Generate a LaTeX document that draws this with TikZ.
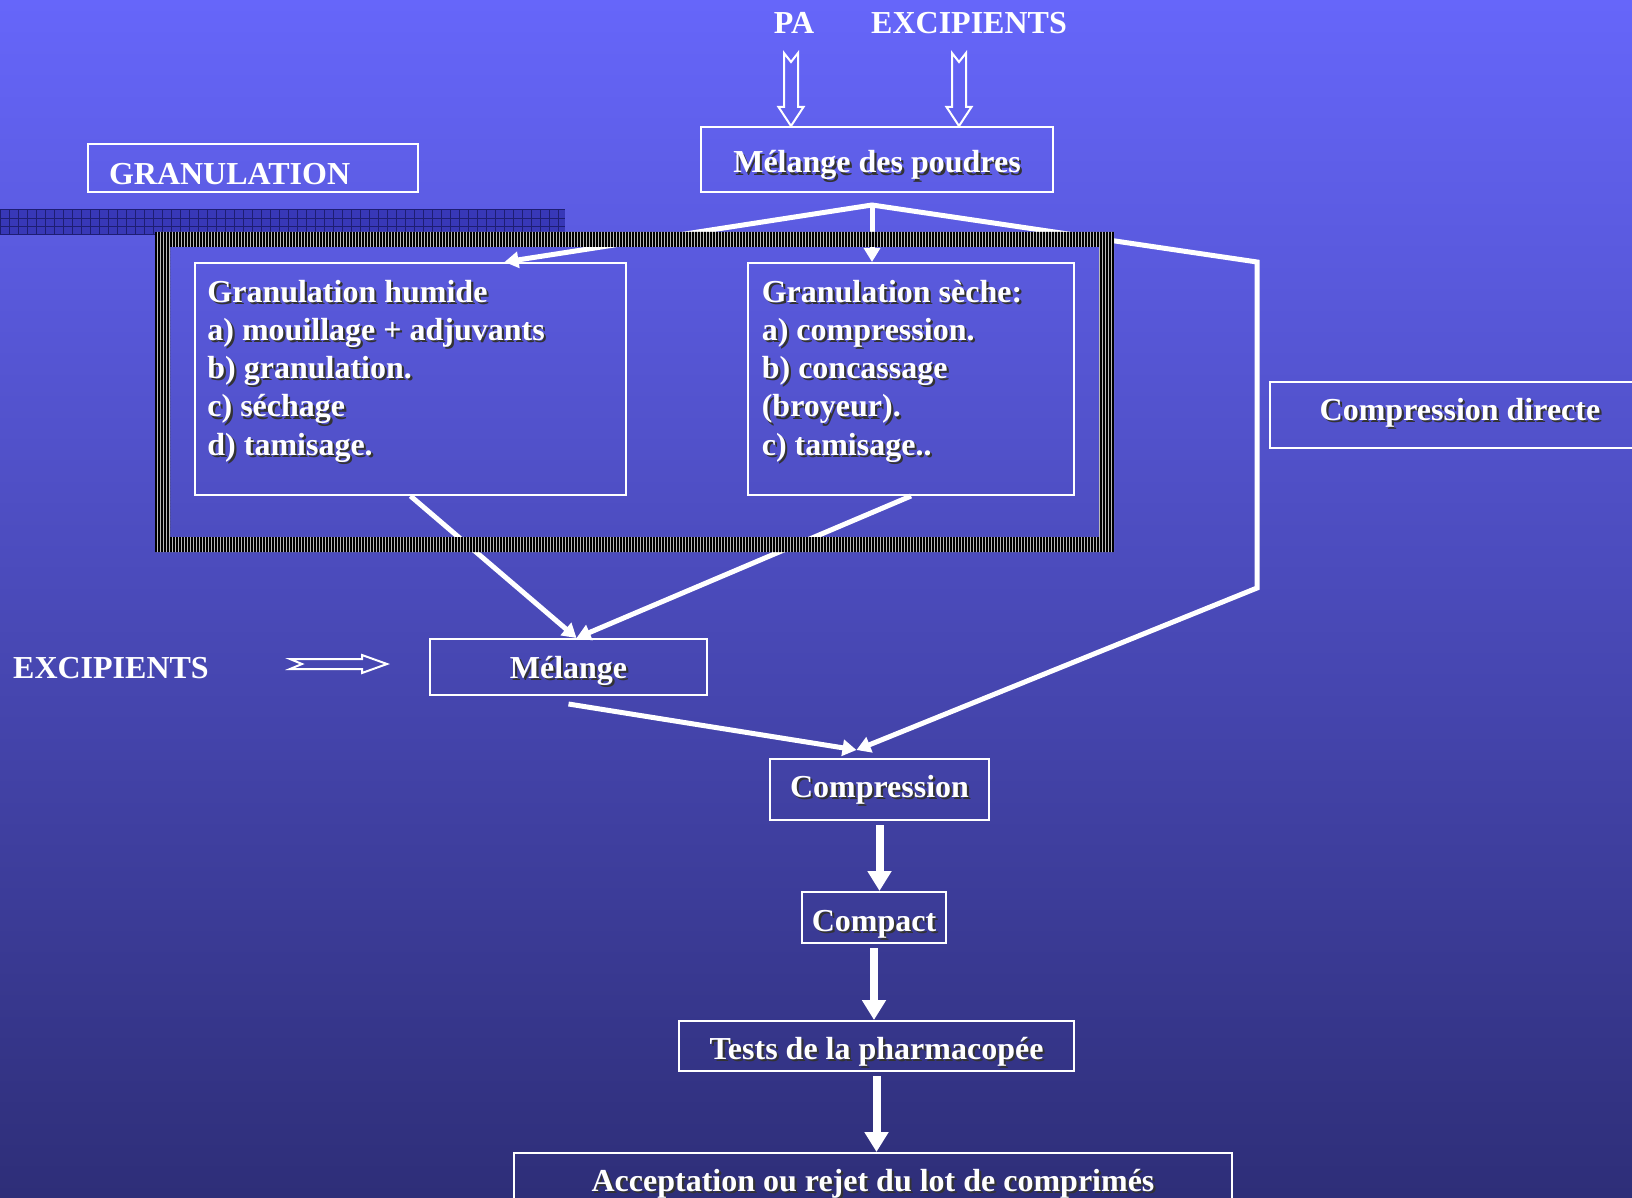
\documentclass[tikz,border=0pt]{standalone}
\usepackage{fontspec}
\setmainfont{Liberation Serif}
\usetikzlibrary{arrows.meta,patterns.meta}

\definecolor{bgtop}{RGB}{102,102,250}
\definecolor{bgbot}{RGB}{46,46,120}
\definecolor{bandblue}{RGB}{56,56,184}
\definecolor{bandline}{RGB}{30,30,115}

\newcommand{\shd}[1]{\leavevmode\rlap{\kern1.1pt\raisebox{-1.1pt}{\color{black!80}#1}}#1}

\tikzset{
	box/.style={draw=white, line width=1pt, inner sep=0pt},
	lbl/.style={text=white, font=\fontsize{16}{19.1}\selectfont\bfseries},
	drop/.style={text height=#1, text depth=3.5pt},
	>={Triangle[width=8pt,length=7pt]},
	flow/.style={white, line width=2.5pt, ->},
	bigflow/.style={white, line width=4pt, shorten <=2pt, -{Triangle[width=11.5pt,length=10pt]}},
	pics/downarrow/.style={code={
		\draw[white, line width=1pt] (0,0) -- (-12.5,-19) -- (-7,-19) -- (-7,-73) -- (0,-64) -- (7,-73) -- (7,-19) -- (12.5,-19) -- cycle;
	}},
	pics/rightarrow/.style={code={
		\draw[white, line width=1pt] (0,0) -- (-25,-9) -- (-25,-5) -- (-97,-5) -- (-85,0) -- (-97,5) -- (-25,5) -- (-25,9) -- cycle;
	}},
}

\begin{document}
\begin{tikzpicture}[x=0.5pt, y=-0.5pt]
	\useasboundingbox (0,0) rectangle (1632,1198);
	\clip (0,0) rectangle (1632,1198);
	\shade[top color=bgtop, bottom color=bgbot] (0,0) rectangle (1632,1198);

	% hatched band
	\fill[bandblue] (0,210) rectangle (565,235);
	\foreach \x in {0,9,...,565}
		\draw[bandline, line width=0.5pt] (\x,210) -- (\x,235);
	\foreach \y in {210,218.5,227,235}
		\draw[bandline, line width=0.5pt] (0,\y) -- (565,\y);

	% titles
	\node[lbl] (pa) at (794,23) {PA};
	\node[lbl] (excA) at (969,23) {EXCIPIENTS};
	\node[lbl] (excB) at (111,668) {EXCIPIENTS};
	\node[box, lbl, minimum width=165pt, minimum height=24pt, text width=144pt, inner xsep=10.5pt, align=left, text height=16.6pt, text depth=0pt] (gran) at (253,168) {GRANULATION};

	% boxes
	\node[box, lbl, drop=17pt, minimum width=176pt, minimum height=32.5pt] (mdp) at (877,159.5) {\shd{Mélange des poudres}};
	\node[box, minimum width=215.5pt, minimum height=116pt] (gh) at (410.5,379) {};
	\node[box, minimum width=163pt, minimum height=116pt] (gs) at (911,379) {};
	\node[box, lbl, drop=9pt, minimum width=190pt, minimum height=33pt] (cd) at (1460,415) {\shd{Compression directe}};
	\node[box, lbl, drop=15pt, minimum width=138.5pt, minimum height=28pt] (mel) at (568.5,667) {\shd{Mélange}};
	\node[box, lbl, drop=11pt, minimum width=109.5pt, minimum height=30.5pt] (comp) at (879.5,789.5) {\shd{Compression}};
	\node[box, lbl, drop=17pt, minimum width=72pt, minimum height=25.5pt] (compact) at (874,917.5) {\shd{Compact}};
	\node[box, lbl, drop=17pt, minimum width=197.5pt, minimum height=25pt] (tests) at (876.5,1046) {\shd{Tests de la pharmacopée}};
	\node[box, lbl, drop=11pt, minimum width=359pt, minimum height=31pt] (accept) at (873,1184) {\shd{Acceptation ou rejet du lot de comprimés}};

	\node[lbl, inner sep=0pt, anchor=north west, align=left] (ghtxt) at ([xshift=6.5pt,yshift=-8.8pt]gh.north west)
		{\shd{Granulation humide}\\ \shd{a) mouillage + adjuvants}\\ \shd{b) granulation.}\\ \shd{c) séchage}\\ \shd{d) tamisage.}};
	\node[lbl, inner sep=0pt, anchor=north west, align=left] (gstxt) at ([xshift=7.2pt,yshift=-8.8pt]gs.north west)
		{\shd{Granulation sèche:}\\ \shd{a) compression.}\\ \shd{b) concassage}\\ \shd{(broyeur).}\\ \shd{c) tamisage..}};

	% hollow arrows
	\pic at (791,126) {downarrow};
	\pic at (959,126) {downarrow};
	\pic at (387,664) {rightarrow};

	% connectors
	\coordinate (split) at (872,205);
	\coordinate (rtop) at (1257,262);
	\coordinate (rbot) at (1257,588);
	\draw[flow, <->] ([xshift=47pt]gh.north) -- (split) -- (rtop) -- (rbot) -- ([xshift=-11.5pt,yshift=4pt]comp.north);
	\draw[flow] (split) -- (split |- gs.north);
	\draw[flow] (gh.south) -- ([xshift=4pt]mel.north);
	\draw[flow] (gs.south) -- ([xshift=4pt]mel.north);
	\draw[flow] ([yshift=-4pt]mel.south) -- ([xshift=-11.5pt,yshift=4pt]comp.north);
	\draw[bigflow] (comp.south) -- (comp.south |- compact.north);
	\draw[bigflow] (compact.south) -- (compact.south |- tests.north);
	\draw[bigflow] (tests.south) -- (tests.south |- accept.north);

	% striped frame
	\fill[gray!55, even odd rule] (155,232) rectangle (1114,552) (170,247) rectangle (1099,537);
	\fill[pattern={Lines[angle=90,distance=1.5pt,line width=0.6pt]}, pattern color=black, even odd rule] (155,232) rectangle (1114,552) (170,247) rectangle (1099,537);
	%\draw[white] (155,232) rectangle (1114,552);
\end{tikzpicture}
\end{document}
